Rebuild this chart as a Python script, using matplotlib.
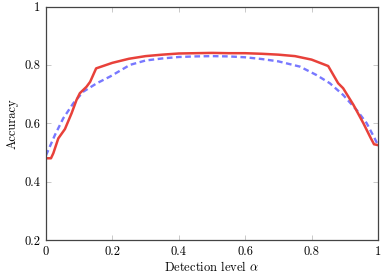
import matplotlib
matplotlib.use("Agg")
import matplotlib.pyplot as plt

red_x = [0, 0.015, 0.022, 0.037, 0.057, 0.077, 0.092, 0.102, 0.122, 0.133, 0.151, 0.2, 0.25, 0.3, 0.35,
         0.4, 0.45, 0.5, 0.55, 0.6, 0.65, 0.7, 0.75, 0.8, 0.85, 0.88, 0.895, 0.926, 0.956, 0.976, 0.988, 1.0]
red_y = [0.48, 0.48, 0.497, 0.548, 0.58, 0.634, 0.68, 0.703, 0.725, 0.742, 0.788, 0.807, 0.821, 0.83, 0.835,
         0.839, 0.840, 0.841, 0.840, 0.840, 0.838, 0.835, 0.830, 0.818, 0.796, 0.737, 0.72, 0.663, 0.60, 0.554, 0.528, 0.525]

blue_x = [0, 0.027, 0.052, 0.082, 0.112, 0.153, 0.193, 0.223, 0.253, 0.3, 0.35, 0.4, 0.45, 0.5, 0.55, 0.6,
          0.65, 0.7, 0.765, 0.815, 0.855, 0.895, 0.936, 0.966, 0.99, 1.0]
blue_y = [0.49, 0.56, 0.617, 0.668, 0.708, 0.737, 0.76, 0.78, 0.80, 0.815, 0.822, 0.827, 0.829, 0.830, 0.829, 0.826,
          0.82, 0.812, 0.794, 0.765, 0.737, 0.697, 0.645, 0.60, 0.548, 0.525]

x_ticks = [0, 0.2, 0.4, 0.6, 0.8, 1]
x_ticklabels = ["0", "0.2", "0.4", "0.6", "0.8", "1"]
y_ticks = [0.2, 0.4, 0.6, 0.8, 1]
y_ticklabels = ["0.2", "0.4", "0.6", "0.8", "1"]

plt.rcParams['font.family'] = ['cmr10', 'DejaVu Serif']
plt.rcParams['mathtext.fontset'] = 'cm'

fig = plt.figure(figsize=(3.82, 2.74), dpi=100)
ax = fig.add_axes([46/382, 34/274, 332/382, 233.5/274])

ax.plot(blue_x, blue_y, color='#7878ff', lw=1.7, dashes=(2.4, 1.5))
ax.plot(red_x, red_y, color='#e8413a', lw=1.8)

ax.set_xlim(0, 1)
ax.set_ylim(0.2, 1)
ax.set_xticks(x_ticks)
ax.set_xticklabels(x_ticklabels)
ax.set_yticks(y_ticks)
ax.set_yticklabels(y_ticklabels)
ax.tick_params(direction='in', top=True, right=True, length=3.5, width=0.6,
               color='#c0c0c0', labelsize=9, pad=4)
for s in ax.spines.values():
    s.set_color('#444444')
    s.set_linewidth(0.9)

ax.set_xlabel(r"Detection level $\alpha$", fontsize=9, labelpad=2)
ax.set_ylabel("Accuracy", fontsize=9, labelpad=4)

fig.savefig("out.png", dpi=100)
